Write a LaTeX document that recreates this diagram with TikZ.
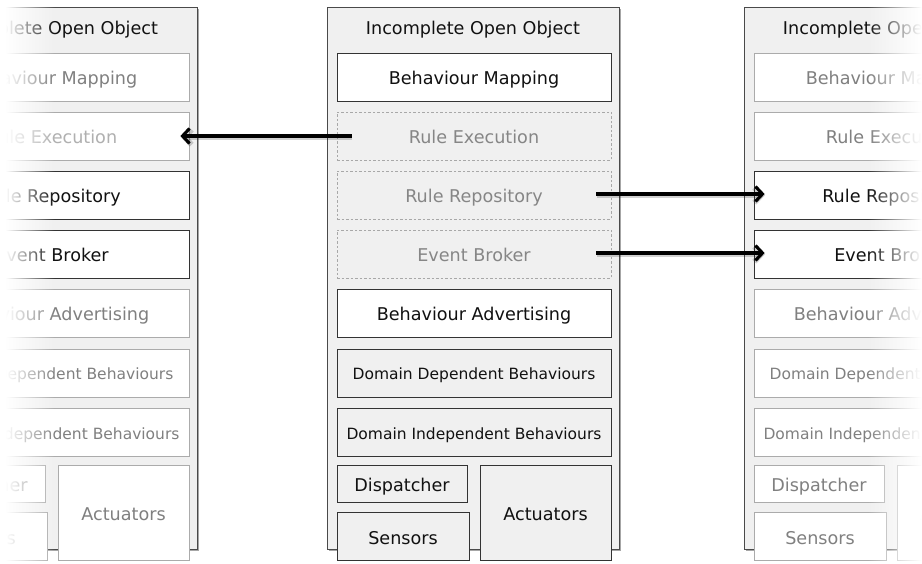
\documentclass[tikz,border=0pt]{standalone}
\usepackage{fontspec}
\setmainfont{DejaVu Sans}
\usetikzlibrary{arrows.meta,calc,shadows}

\definecolor{panelfill}{HTML}{F0F0F0}
\definecolor{panelline}{HTML}{4A4A4A}
\definecolor{darkline}{HTML}{333333}
\definecolor{paleline}{HTML}{ABABAB}
\definecolor{paletext}{HTML}{808080}
\definecolor{palertext}{HTML}{B0B0B0}
\definecolor{dashline}{HTML}{A8A8A8}
\definecolor{dashtext}{HTML}{868686}
\definecolor{inktext}{HTML}{111111}

\newcommand\bigtxt{\fontsize{17.6}{20}\selectfont}
\newcommand\smalltxt{\fontsize{15.5}{18}\selectfont}

\tikzset{
  panel/.style={rectangle, draw=panelline, fill=panelfill, line width=0.9pt,
    inner sep=0pt,
    drop shadow={shadow xshift=1.4pt, shadow yshift=-1.4pt, fill=black, opacity=0.35}},
  titletext/.style={font=\bigtxt, text=inktext, inner sep=0pt},
  box/.style={rectangle, line width=0.8pt, inner sep=0pt,
    text height=16pt, text depth=0pt, font=\bigtxt},
  small/.style={font=\smalltxt, text height=14pt},
  solidbox/.style={box, draw=darkline, fill=white, text=inktext},
  greybox/.style={box, draw=darkline, fill=panelfill, text=inktext},
  dashbox/.style={box, draw=dashline, dash pattern=on 2.5pt off 2pt,
    fill=panelfill, text=dashtext},
  faintbox/.style={box, draw=paleline, fill=white, text=paletext},
  fainterbox/.style={faintbox, text=palertext},
  flowarrow/.style={draw=black, line width=3.1pt,
    -{Straight Barb[length=7pt, width=15pt]},
    preaction={draw=black, opacity=0.18, line width=5.5pt,
      transform canvas={xshift=0.5pt, yshift=-1.2pt}}},
}

% #1 name prefix, #2 horizontal offset, #3 mapping style, #4 execution style,
% #5 repository/broker style, #6 advertising style, #7 lower layers style
\newcommand\objectcolumn[7]{%
  \begin{scope}[xshift=#2pt]
    \node[panel, minimum width=292pt, minimum height=542pt, anchor=north west]
      (#1-panel) at (327,7) {};
    \node[titletext, anchor=base] (#1-title) at (473,35) {Incomplete Open Object};
    \node[#3, minimum width=274pt, minimum height=48pt] (#1-map) at (474,77) {Behaviour Mapping};
    \node[#4, minimum width=274pt, minimum height=48pt] (#1-exec) at (474,136) {Rule Execution};
    \node[#5, minimum width=274pt, minimum height=48pt] (#1-repo) at (474,195) {Rule Repository};
    \node[#5, minimum width=274pt, minimum height=48pt] (#1-broker) at (474,254) {Event Broker};
    \node[#6, minimum width=274pt, minimum height=48pt] (#1-adv) at (474,313) {Behaviour Advertising};
    \node[#7, small, minimum width=274pt, minimum height=48pt] (#1-dep) at (474,373) {Domain Dependent Behaviours};
    \node[#7, small, minimum width=274pt, minimum height=48pt] (#1-indep) at (474,432) {Domain Independent Behaviours};
    \node[#7, minimum width=130pt, minimum height=37pt] (#1-disp) at (402,483.5) {Dispatcher};
    \node[#7, minimum width=132pt, minimum height=48pt] (#1-sens) at (403,536) {Sensors};
    \node[#7, minimum width=131pt, minimum height=95pt] (#1-act) at (545.5,512.5) {Actuators};
  \end{scope}}

\begin{document}
\begin{tikzpicture}[x=1pt, y=-1pt]
  \path[use as bounding box] (0,0) rectangle (922,564);
  \clip (0,0) rectangle (922,564);
  \fill[white] (0,0) rectangle (922,564);

  \objectcolumn{L}{-422}{faintbox}{fainterbox}{solidbox}{faintbox}{faintbox}
  \objectcolumn{C}{0}{solidbox}{dashbox}{dashbox}{solidbox}{greybox}
  \objectcolumn{R}{417}{faintbox}{faintbox}{solidbox}{faintbox}{faintbox}

  % white veils, one point wide slices, dissolving the side columns
  \fill[white] (0,0) rectangle (6,564);
  \foreach \k [evaluate=\k as \op using {1-(\k-5.5)/49}] in {6,...,54}
    \fill[white, opacity=\op] (\k,0) rectangle (\k+1,564);
  \foreach \k [evaluate=\k as \op using {(\k-867.5)/54}] in {868,...,921}
    \fill[white, opacity=\op] (\k,0) rectangle (\k+1,564);

  % rules and events migrating between objects
  \draw[flowarrow] ($(C-exec.west)+(15,0)$) -- ($(L-exec.east)+(-9,0)$);
  \draw[flowarrow] ($(C-repo.east)+(-15,-1)$) -- ($(R-repo.west)+(11,-1)$);
  \draw[flowarrow] ($(C-broker.east)+(-15,-1)$) -- ($(R-broker.west)+(11,-1)$);
\end{tikzpicture}
\end{document}
